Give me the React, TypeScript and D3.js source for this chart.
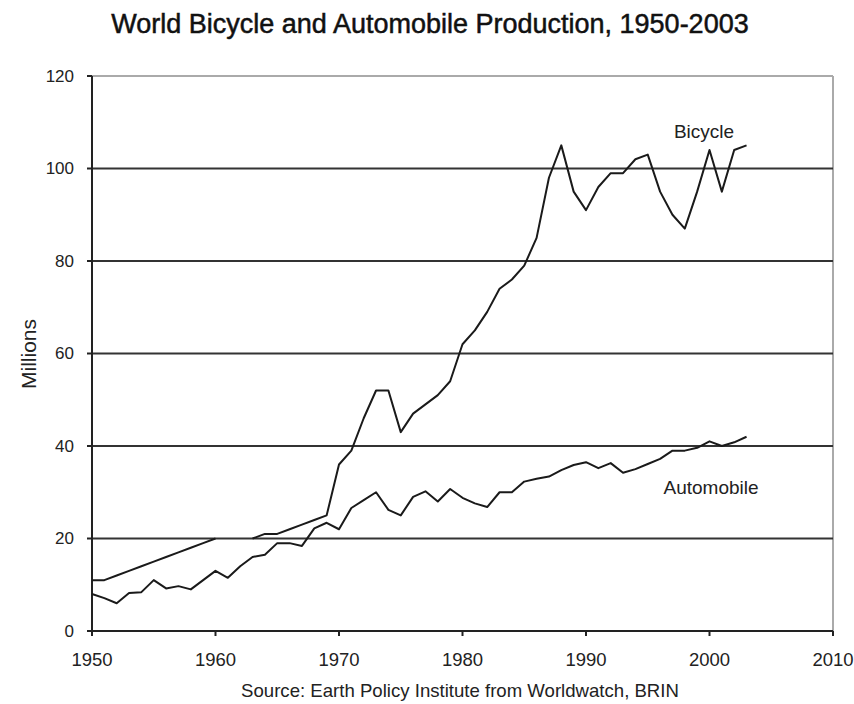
import React from "react";
import * as d3 from "d3";

const years: number[] = d3.range(1950, 2004);
const bicycle: (number | null)[] = [
  11, 11, 12, 13, 14, 15, 16, 17, 18, 19, 20, null, null, 20, 21, 21, 22, 23, 24, 25,
  36, 39, 46, 52, 52, 43, 47, 49, 51, 54, 62, 65, 69, 74, 76, 79, 85, 98, 105, 95,
  91, 96, 99, 99, 102, 103, 95, 90, 87, 95, 104, 95, 104, 105,
];
const automobile: number[] = [
  8, 7.1, 6, 8.2, 8.4, 11, 9.2, 9.7, 9, 11, 13, 11.5, 14, 16, 16.5, 19, 19, 18.4, 22.2, 23.4,
  22, 26.6, 28.3, 30, 26.2, 25, 29, 30.2, 28, 30.7, 28.8, 27.6, 26.8, 30, 30, 32.3, 32.9, 33.4, 34.8, 35.9,
  36.5, 35.2, 36.3, 34.2, 35, 36.1, 37.2, 39, 39, 39.6, 41, 40, 40.8, 42,
];
const xTicks: number[] = [1950, 1960, 1970, 1980, 1990, 2000, 2010];
const yTicks: number[] = [0, 20, 40, 60, 80, 100, 120];
const title = "World Bicycle and Automobile Production, 1950-2003";
const source = "Source: Earth Policy Institute from Worldwatch, BRIN";
const yLabel = "Millions";

const W = 854;
const H = 704;
const FONT = "'Liberation Sans', Arial, sans-serif";

export default function App() {
  const x = d3.scaleLinear().domain([1950, 2010]).range([92, 833]);
  const y = d3.scaleLinear().domain([0, 120]).range([631, 76]);

  const bikeLine = d3
    .line<number | null>()
    .defined((d) => d !== null)
    .x((_, i) => x(years[i]))
    .y((d) => y(d as number));
  const autoLine = d3
    .line<number>()
    .x((_, i) => x(years[i]))
    .y((d) => y(d));

  const left = x(1950);
  const right = x(2010);
  const top = y(120);
  const bottom = y(0);

  return (
    <svg
      width={W}
      height={H}
      style={{ position: "absolute", left: 0, top: 0, display: "block", background: "#fff" }}
    >
      <rect x={0} y={0} width={W} height={H} fill="#fff" />
      <text
        x={430}
        y={33}
        textAnchor="middle"
        fontFamily={FONT}
        fontSize={27}
        fill="#111"
        stroke="#111"
        strokeWidth={0.5}
      >
        {title}
      </text>

      {/* plot border (top & right) */}
      <line x1={left} x2={right} y1={top} y2={top} stroke="#aaa" strokeWidth={2} />
      <line x1={right} x2={right} y1={top} y2={bottom} stroke="#aaa" strokeWidth={2} />

      {/* gridlines */}
      {yTicks
        .filter((t) => t > 0 && t < 120)
        .map((t) => (
          <line key={t} x1={left} x2={right} y1={y(t)} y2={y(t)} stroke="#333" strokeWidth={2} />
        ))}

      {/* axes */}
      <line x1={left} x2={left} y1={top} y2={bottom} stroke="#222" strokeWidth={2} />
      <line x1={left} x2={right} y1={bottom} y2={bottom} stroke="#222" strokeWidth={2} />

      {yTicks.map((t) => (
        <g key={t}>
          <line x1={left - 5} x2={left} y1={y(t)} y2={y(t)} stroke="#222" strokeWidth={2} />
          <text
            x={left - 18}
            y={y(t)}
            dy="0.35em"
            textAnchor="end"
            fontFamily={FONT}
            fontSize={17}
            fill="#222"
          >
            {t}
          </text>
        </g>
      ))}

      {xTicks.map((t) => (
        <g key={t}>
          <line x1={x(t)} x2={x(t)} y1={bottom} y2={bottom + 5} stroke="#222" strokeWidth={2} />
          <text
            x={x(t)}
            y={bottom + 35}
            textAnchor="middle"
            fontFamily={FONT}
            fontSize={18.5}
            fill="#222"
          >
            {t}
          </text>
        </g>
      ))}

      <text
        transform={`translate(36,354) rotate(-90)`}
        textAnchor="middle"
        fontFamily={FONT}
        fontSize={21}
        fill="#222"
      >
        {yLabel}
      </text>

      <text x={460} y={697} textAnchor="middle" fontFamily={FONT} fontSize={18.6} fill="#222">
        {source}
      </text>

      <path d={bikeLine(bicycle) || ""} fill="none" stroke="#1a1a1a" strokeWidth={2} strokeLinejoin="round" />
      <path d={autoLine(automobile) || ""} fill="none" stroke="#1a1a1a" strokeWidth={2} strokeLinejoin="round" />

      <text x={704} y={138} textAnchor="middle" fontFamily={FONT} fontSize={19} fill="#222">
        Bicycle
      </text>
      <text x={711} y={494} textAnchor="middle" fontFamily={FONT} fontSize={19} fill="#222">
        Automobile
      </text>
    </svg>
  );
}
